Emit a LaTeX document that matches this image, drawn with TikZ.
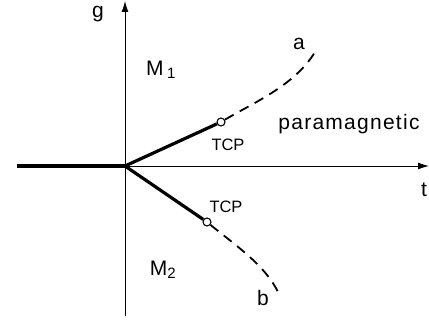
\documentclass[tikz,border=0pt]{standalone}
\usepackage{fontspec}
\setmainfont{Liberation Sans}
\newfontfamily\spaced[LetterSpace=6]{Liberation Sans}
\usetikzlibrary{arrows.meta}
\begin{document}
\begin{tikzpicture}[x=1pt,y=-1pt,
  axis/.style={line width=1pt,-{Latex[length=11pt,width=7pt]}},
  phase/.style={line width=3.2pt},
  dashline/.style={line width=1.8pt,dash pattern=on 10pt off 7pt},
  tcp/.style={circle,draw,fill=white,line width=1.1pt,inner sep=0pt,minimum size=8pt},
  lbl/.style={inner sep=0pt,font=\fontsize{21}{22}\selectfont},
  small/.style={inner sep=0pt,font=\fontsize{16.5}{17}\selectfont}]
\useasboundingbox (0,0) rectangle (429,321);
\coordinate (O) at (125,166);
\coordinate (L) at (17,166);
\coordinate (B) at (125,316);
\coordinate (T) at (125,1);
\coordinate (R) at (429,166);
\coordinate (ea) at (315,52);
\coordinate (eb) at (278,292);
\draw[axis] (B) -- (T);
\draw[axis] (O) -- (R);
\draw[phase] (L) -- (O);
\node[tcp] (t1) at (221,122) {};
\node[tcp] (t2) at (207,222) {};
\draw[phase] (O) -- (t1);
\draw[phase] (O) -- (t2);
\draw[dashline] (t1) .. controls (255,102) and (295,85) .. (ea);
\draw[dashline] (t2) .. controls (235,245) and (265,265) .. (eb);
\node[lbl] (g) at (98,14) {g};
\node[lbl] (t) at (424,190) {t};
\node[lbl] (a) at (299,44) {a};
\node[lbl] (b) at (263,298) {b};
\node[lbl] (m1) at (161,70) {M\,\textsubscript{\fontsize{15}{16}\selectfont 1}};
\node[lbl] (m2) at (163,270) {M\textsubscript{\fontsize{15}{16}\selectfont 2}};
\node[lbl] (para) at (349,124) {\spaced paramagnetic};
\node[small] (c1) at (228,145) {TCP};
\node[small] (c2) at (226,207) {TCP};
\end{tikzpicture}
\end{document}
